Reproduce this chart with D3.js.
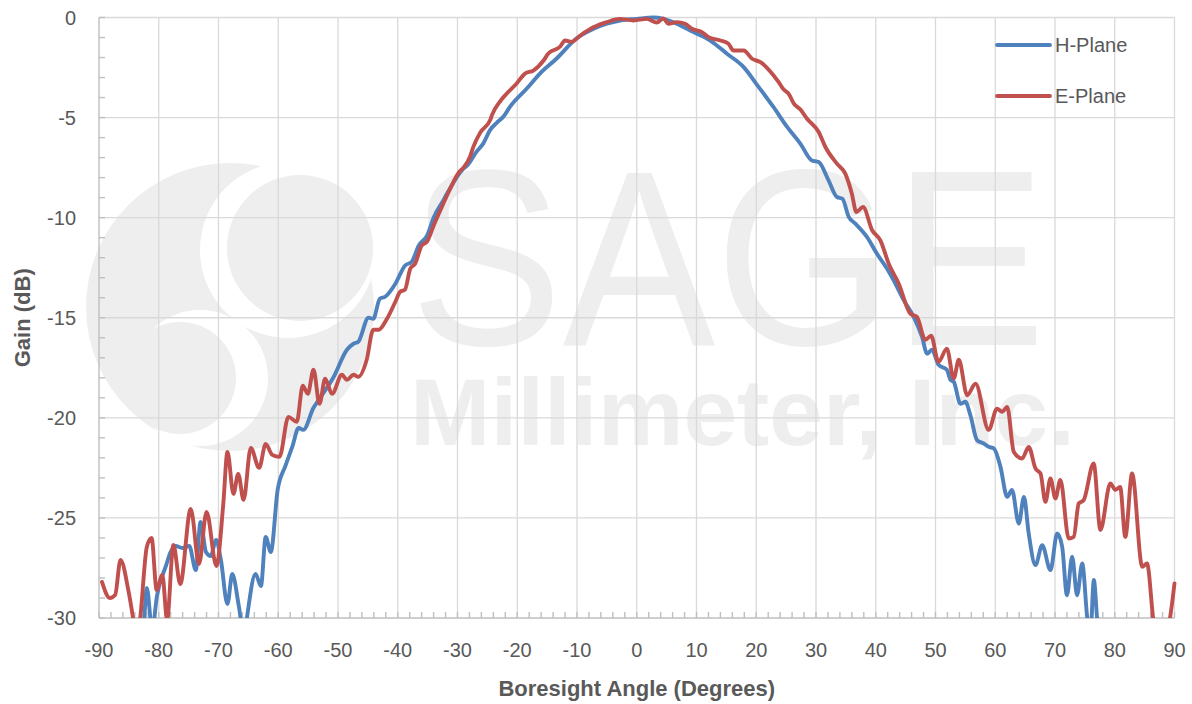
<!DOCTYPE html>
<html>
<head>
<meta charset="utf-8">
<script src="https://cdn.jsdelivr.net/npm/d3@7"></script>
<style>
body { margin: 0; background: #fff; }
text { font-family: "Liberation Sans", Arial, sans-serif; }
</style>
</head>
<body>
<svg id="chart"></svg>
<script>
window.addEventListener("load", main);

const WIDTH = 1192;
const HEIGHT = 704;
const MARGIN = {top: 17.5, right: 17.5, bottom: 86, left: 99};

const BLUE = "#4f81bd";
const RED = "#c0504d";
const GRID = "#d9d9d9";
const AXIS = "#bfbfbf";
const LABEL = "#595959";
const WATERMARK = "#eeeeee";

const X_TICKS = [-90, -80, -70, -60, -50, -40, -30, -20, -10, 0, 10, 20, 30, 40, 50, 60, 70, 80, 90];
const Y_TICKS = [0, -5, -10, -15, -20, -25, -30];

const SERIES_NAMES = ["H-Plane", "E-Plane"];

// H-Plane (values below -30 are clipped away)
const hAngles = [-90, -86, -83, -82.5, -82.0, -81.1, -80.3, -78.8, -78.0, -77.2, -76.0, -74.9, -73.8, -73.0,
    -72.1, -71.3, -70.4, -69.6, -68.5, -67.7, -66.6, -65.7, -65.2, -63.8, -62.9, -62.1, -61.25, -60.1,
    -58.8, -57.6, -56.6, -55.8, -54.1, -53.0, -50.8, -48.5, -47.4, -46.6, -44.9, -44.1, -43.0, -42.1,
    -40.4, -38.8, -37.65, -36.5, -35.1, -34.0, -32.3, -31.2, -29.0, -28.4, -26.8, -25.7, -24.5, -23.4,
    -22.3, -21.2, -18.4, -16.2, -13.4, -10.1, -7.2, -5.0, -2.8, 0, 2.8, 4.5, 6.7, 9.5, 12.3, 15.1, 17.9,
    20.1, 22.9, 25.2, 27.4, 29.3, 30.45, 32.1, 33.5, 34.4, 35.5, 36.6, 38.55, 40.2, 41.9, 43.0, 44.7,
    46.35, 47.75, 48.6, 49.4, 50.5, 51.9, 52.5, 53.05, 54.17, 55.0, 55.84, 56.96, 58.07, 58.9, 59.76,
    60.87, 62.0, 62.8, 63.94, 64.8, 65.6, 66.73, 67.85, 69.24, 70.36, 71.2, 72.0, 72.87, 73.7, 74.55,
    75.4, 75.9, 76.5, 77.1, 78, 82, 86, 90];
const hGain = [-34, -33, -31.5, -30.3, -28.5, -30.6, -28.9, -27.4, -26.7, -26.4, -26.5, -26.4, -27.6, -25.2,
    -26.7, -26.9, -26.1, -27.1, -29.3, -27.8, -29.4, -31.0, -29.9, -27.8, -28.4, -25.95, -26.7, -23.6,
    -22.4, -21.4, -20.5, -20.6, -19.5, -19.0, -18.0, -16.6, -16.3, -16.2, -15.0, -15.05, -14.05, -13.95,
    -13.3, -12.4, -12.2, -11.4, -10.9, -10.0, -9.1, -8.5, -7.55, -7.4, -6.7, -6.3, -5.6, -5.25,
    -4.95, -4.45, -3.55, -2.8, -2.05, -1.05, -0.56, -0.31, -0.15, -0.07, 0, -0.07, -0.31, -0.73, -1.15, -1.81, -2.48,
    -3.35, -4.48, -5.48, -6.31, -7.14, -7.22, -8.14, -8.97, -9.05, -9.97, -10.3, -10.97, -11.8, -12.55, -13.13, -14.13,
    -14.96, -15.96, -16.8, -16.6, -17.35, -17.6, -18.1, -18.2, -19.3, -19.2, -19.87, -21.12, -21.28, -21.45, -21.53,
    -22.45, -23.95, -23.6, -25.28, -23.95, -25.78, -27.36, -26.36, -27.61, -25.78, -26.44, -28.86, -26.94, -28.86, -27.28,
    -30.0, -31.0, -28.1, -30.2, -31.5, -32.5, -33, -34];

// E-Plane
const eAngles = [-89.5, -88.2, -87.3, -86.4, -85.1, -84.3, -83.7, -83.1, -82.0, -81.2, -80.35, -79.4, -78.6,
    -77.55, -76.4, -74.65, -73.25, -72.0, -70.35, -69.2, -68.5, -67.5, -66.7, -65.8, -64.6, -63.2, -62.1,
    -61.0, -59.8, -58.3, -56.9, -55.9, -55.05, -54.1, -53.1, -52.15, -51.0, -49.35, -48.5, -47.4, -46.6,
    -45.2, -44.1, -43.2, -41.8, -40.4, -39.6, -38.8, -37.9, -37.1, -36.0, -35.1, -34.0, -32.6, -31.3,
    -29.8, -29.0, -27.9, -27.4, -26.2, -24.5, -24.2, -22.9, -21.75, -20.1, -18.7, -17.3, -15.6, -14.8,
    -12.8, -12.0, -10.9, -9.45, -7.2, -5.0, -2.8, -0.55, 1.7, 3.35, 4.45, 5.3, 6.7, 8.1, 9.2, 10.9, 12.0,
    14.0, 15.35, 16.2, 17.9, 19.3, 20.7, 22.35, 23.75, 24.6, 25.4, 26.3, 27.4, 28.5, 30.45, 31.57, 33.5,
    34.9, 36.0, 36.75, 37.87, 39.4, 40.77, 42.17, 43.85, 45.8, 46.9, 48.3, 49.26, 50.5, 51.9, 53.05, 53.9,
    55.3, 56.7, 58.9, 60.3, 61.15, 62.0, 63.1, 64.5, 65.6, 66.73, 67.57, 68.4, 69.24, 70.07, 70.9, 72.3,
    73.13, 73.97, 74.8, 76.47, 77.6, 79.26, 80.1, 80.9, 81.77, 82.9, 84.6, 85.4, 86.5, 87.5, 88.7, 89.3, 90];
const eGain = [-28.2, -29.0, -28.85, -27.1, -28.6, -30.0, -31.2, -30.0, -26.45, -26.0, -28.6, -27.85, -30.1,
    -26.35, -28.3, -24.55, -27.3, -24.7, -27.4, -24.3, -21.7, -23.8, -22.8, -24.1, -21.5, -22.5, -21.3,
    -21.85, -21.95, -19.95, -20.2, -18.4, -18.8, -17.6, -19.3, -18.05, -18.8, -17.85, -18.1, -17.85, -17.95,
    -17.1, -15.6, -15.6, -15.05, -14.2, -13.7, -13.6, -12.55, -12.3, -11.4, -11.2, -10.4, -9.45, -8.6,
    -7.75, -7.5, -6.95, -6.5, -5.75, -5.1, -4.85, -4.2, -3.8, -3.3, -2.8, -2.65, -2.15, -1.8,
    -1.45, -1.15, -1.22, -0.9, -0.48, -0.23, -0.07, -0.15, -0.07, -0.25, -0.05, -0.31, -0.23, -0.31, -0.56, -0.73, -0.98,
    -1.15, -1.31, -1.65, -1.65, -2.06, -2.23, -2.7, -3.23, -3.6, -3.8, -4.3, -4.6, -5.06, -5.72, -6.47, -7.3,
    -7.8, -8.8, -9.72, -9.47, -10.63, -11.13, -12.3, -13.3, -14.8, -14.96, -16.1, -15.9, -17.2, -16.54, -18.04, -17.1,
    -18.87, -18.3, -20.6, -19.54, -19.7, -19.46, -21.7, -22.03, -21.45, -22.53, -22.78, -24.2, -23.03, -24.03, -23.1, -26.03,
    -25.95, -24.28, -24.11, -22.28, -25.6, -23.28, -23.6, -23.45, -25.95, -22.78, -27.44, -27.28, -30.2, -31.5, -30.8, -29.9, -28.27];

function drawWatermark(g){
    // faint company logo behind the plot
    g.append("circle").attr("cx", 230).attr("cy", 307).attr("r", 144).attr("fill", WATERMARK);
    g.append("circle").attr("cx", 288).attr("cy", 250).attr("r", 88).attr("fill", "#fff");
    g.append("circle").attr("cx", 300).attr("cy", 248).attr("r", 73).attr("fill", WATERMARK);
    g.append("circle").attr("cx", 200).attr("cy", 378).attr("r", 68).attr("fill", "#fff");
    g.append("circle").attr("cx", 180).attr("cy", 378).attr("r", 56).attr("fill", WATERMARK);

    g.append("text")
        .attr("x", 410).attr("y", 345)
        .attr("textLength", 636).attr("lengthAdjust", "spacingAndGlyphs")
        .attr("font-size", 250)
        .attr("fill", WATERMARK)
        .text("SAGE");
    g.append("text")
        .attr("x", 410).attr("y", 445)
        .attr("textLength", 665).attr("lengthAdjust", "spacingAndGlyphs")
        .attr("font-size", 94)
        .attr("font-weight", "bold")
        .attr("fill", WATERMARK)
        .text("Millimeter, Inc.");
}

function main(){
    const svg = d3.select("#chart")
        .attr("width", WIDTH)
        .attr("height", HEIGHT);

    const x = d3.scaleLinear().domain([-90, 90]).range([MARGIN.left, WIDTH - MARGIN.right]);
    const y = d3.scaleLinear().domain([0, -30]).range([MARGIN.top, HEIGHT - MARGIN.bottom]);

    drawWatermark(svg.append("g"));

    // grid
    const grid = svg.append("g");
    grid.selectAll("line.v")
        .data(X_TICKS.filter(d => d > -90))
        .enter().append("line")
        .attr("x1", d => x(d)).attr("x2", d => x(d))
        .attr("y1", y(0)).attr("y2", y(-30))
        .attr("stroke", GRID).attr("stroke-width", 1.3);
    grid.selectAll("line.h")
        .data(Y_TICKS.filter(d => d > -30))
        .enter().append("line")
        .attr("x1", x(-90)).attr("x2", x(90))
        .attr("y1", d => y(d)).attr("y2", d => y(d))
        .attr("stroke", GRID).attr("stroke-width", 1.3);

    // axes with minor ticks
    const axes = svg.append("g").attr("stroke", AXIS).attr("stroke-width", 1.4);
    axes.append("line")
        .attr("x1", x(-90)).attr("x2", x(-90)).attr("y1", y(0)).attr("y2", y(-30));
    axes.append("line")
        .attr("x1", x(-90)).attr("x2", x(90)).attr("y1", y(-30)).attr("y2", y(-30));
    axes.selectAll("line.ym")
        .data(d3.range(0, -31, -1))
        .enter().append("line")
        .attr("x1", x(-90)).attr("x2", x(-90) + 6)
        .attr("y1", d => y(d)).attr("y2", d => y(d));
    axes.selectAll("line.xm")
        .data(d3.range(-90, 91, 2))
        .enter().append("line")
        .attr("x1", d => x(d)).attr("x2", d => x(d))
        .attr("y1", y(-30)).attr("y2", y(-30) - 6);

    // tick labels
    svg.append("g").selectAll("text")
        .data(Y_TICKS)
        .enter().append("text")
        .attr("x", x(-90) - 23)
        .attr("y", d => y(d))
        .attr("dy", "0.35em")
        .attr("text-anchor", "end")
        .attr("font-size", 20)
        .attr("fill", LABEL)
        .text(d => d);
    svg.append("g").selectAll("text")
        .data(X_TICKS)
        .enter().append("text")
        .attr("x", d => x(d))
        .attr("y", y(-30) + 32)
        .attr("dy", "0.35em")
        .attr("text-anchor", "middle")
        .attr("font-size", 20)
        .attr("fill", LABEL)
        .text(d => d);

    // axis titles
    svg.append("text")
        .attr("x", (x(-90) + x(90)) / 2)
        .attr("y", 688)
        .attr("dy", "0.35em")
        .attr("text-anchor", "middle")
        .attr("font-size", 22)
        .attr("font-weight", "bold")
        .attr("fill", LABEL)
        .text("Boresight Angle (Degrees)");
    svg.append("text")
        .attr("transform", "translate(22," + (y(0) + y(-30)) / 2 + ") rotate(-90)")
        .attr("dy", "0.35em")
        .attr("text-anchor", "middle")
        .attr("font-size", 22)
        .attr("font-weight", "bold")
        .attr("fill", LABEL)
        .text("Gain (dB)");

    // lines, clipped at the bottom of the plot
    svg.append("clipPath").attr("id", "plot-clip")
        .append("rect")
        .attr("x", x(-90)).attr("y", 0)
        .attr("width", x(90) - x(-90) + 4).attr("height", y(-30));

    const line = d3.line()
        .x(d => x(d[0]))
        .y(d => y(d[1]))
        .curve(d3.curveMonotoneX);

    const series = [
        {name: SERIES_NAMES[0], color: BLUE, points: d3.zip(hAngles, hGain)},
        {name: SERIES_NAMES[1], color: RED, points: d3.zip(eAngles, eGain)}
    ];

    svg.append("g").attr("clip-path", "url(#plot-clip)")
        .selectAll("path")
        .data(series)
        .enter().append("path")
        .attr("d", d => line(d.points))
        .attr("fill", "none")
        .attr("stroke", d => d.color)
        .attr("stroke-width", 3.9)
        .attr("stroke-linejoin", "round")
        .attr("stroke-linecap", "round");

    // legend
    const legend = svg.append("g").selectAll("g")
        .data(series)
        .enter().append("g")
        .attr("transform", (d, i) => "translate(997," + (45 + i * 51) + ")");
    legend.append("line")
        .attr("x1", 0).attr("x2", 53)
        .attr("stroke", d => d.color)
        .attr("stroke-width", 3.9)
        .attr("stroke-linecap", "round");
    legend.append("text")
        .attr("x", 58)
        .attr("dy", "0.35em")
        .attr("font-size", 20)
        .attr("fill", LABEL)
        .text(d => d.name);
}
</script>
</body>
</html>
